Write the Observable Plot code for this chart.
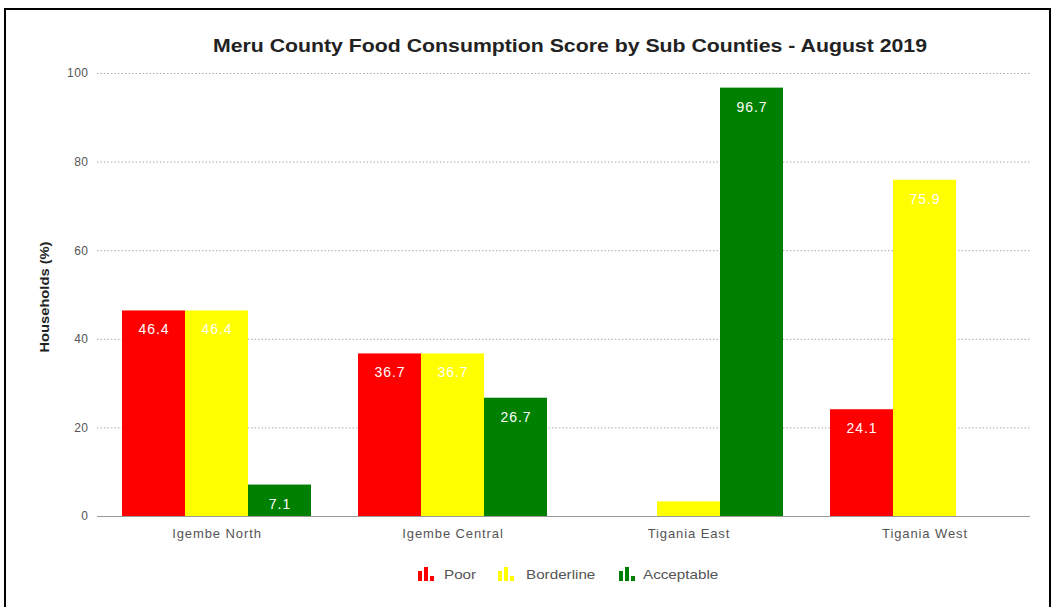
<!DOCTYPE html>
<html>
<head>
<meta charset="utf-8">
<script src="https://cdn.jsdelivr.net/npm/d3@7"></script>
<script src="https://cdn.jsdelivr.net/npm/@observablehq/plot@0.6"></script>
<style>
  body { margin: 0; background: #fff; font-family: "Liberation Sans", Arial, sans-serif; }
  #frame { position: absolute; left: 4px; top: 8px; width: 1047px; height: 620px; border: 2px solid #000; box-sizing: border-box; }
  #title { position: absolute; left: 570px; top: 35px; white-space: nowrap; font-weight: bold; font-size: 19px; color: #222; }
  #ylabel { position: absolute; left: 44px; top: 297px; transform: translate(-50%, -50%) rotate(-90deg) scaleX(1.13); font-weight: bold; font-size: 13px; color: #222; white-space: nowrap; }
  .layer { position: absolute; left: 0; top: 60px; }
  #legend { position: absolute; top: 574px; left: 0; width: 1055px; font-size: 13px; color: #555; }
  .icon { position: absolute; top: -7px; }
  .lt { position: absolute; top: 0; transform-origin: left center; transform: translateY(-50%) scaleX(1.17); white-space: nowrap; }
</style>
</head>
<body>
<div id="frame"></div>
<div id="title"></div>
<div id="ylabel"></div>
<div id="grid" class="layer"></div>
<div id="chart" class="layer"></div>
<div id="legend"></div>
<script>
const titleText = "Meru County Food Consumption Score by Sub Counties - August 2019";
const yLabel = "Households (%)";
const counties = ["Igembe North", "Igembe Central", "Tigania East", "Tigania West"];
const series = ["Poor", "Borderline", "Acceptable"];
const colors = ["#ff0000", "#ffff00", "#008000"];
const poor = [46.4, 36.7, 0, 24.1];
const borderline = [46.4, 36.7, 3.3, 75.9];
const acceptable = [7.1, 26.7, 96.7, 0];
const yTicks = [0, 20, 40, 60, 80, 100];

const seriesValues = [poor, borderline, acceptable];
const data = [];
counties.forEach((c, i) => series.forEach((s, j) => data.push({county: c, category: s, value: seriesValues[j][i]})));

const titleEl = document.getElementById("title");
titleEl.textContent = titleText;
const tw = titleEl.getBoundingClientRect().width;
titleEl.style.transform = `translateX(-50%) scaleX(${714 / tw})`;
document.getElementById("ylabel").textContent = yLabel;

const common = {
  width: 1055,
  height: 490,
  marginLeft: 97,
  marginRight: 12,
  marginTop: 13,
  marginBottom: 34,
  style: {fontFamily: "'Liberation Sans', Arial, sans-serif", fontSize: "12px", color: "#555", background: "transparent"}
};

// background layer: y axis, continuous dotted grid and baseline across the whole plot
const grid = Plot.plot({
  ...common,
  x: {axis: null},
  y: {domain: [0, 100], ticks: yTicks, label: null, tickSize: 0, tickPadding: 9},
  marks: [
    Plot.ruleY(yTicks.filter(t => t > 0), {stroke: "#aaa", strokeDasharray: "1.5,2", strokeWidth: 1, insetRight: 13}),
    Plot.ruleY([0], {stroke: "#999", strokeWidth: 1, insetRight: 13})
  ]
});
grid.querySelectorAll('g[aria-label="y-axis tick label"] text').forEach(t => { t.style.letterSpacing = "0.5px"; });
document.getElementById("grid").appendChild(grid);

const chart = Plot.plot({
  ...common,
  fx: {domain: counties, paddingInner: 0.2, paddingOuter: 0.1, label: null, tickSize: 0, tickPadding: 12, axis: "bottom"},
  x: {domain: series, padding: 0, axis: null},
  y: {domain: [0, 100], axis: null},
  color: {domain: series, range: colors},
  marks: [
    Plot.barY(data, {fx: "county", x: "category", y: "value", fill: "category"}),
    Plot.text(data.filter(d => d.value > 5), {fx: "county", x: "category", y: "value", text: d => d.value.toFixed(1), dy: 19, fill: "white", fontSize: 14})
  ]
});
chart.querySelectorAll('g[aria-label="fx-axis tick label"] text').forEach(t => { t.style.fontSize = "13px"; t.style.letterSpacing = "0.9px"; });
chart.querySelectorAll('g[aria-label="text"] text').forEach(t => { t.style.letterSpacing = "1px"; });
document.getElementById("chart").appendChild(chart);

// legend
const legend = document.getElementById("legend");
const iconX = [418, 498, 619];
const textX = [444, 526, 643];
series.forEach((s, j) => {
  const ic = document.createElement("div");
  ic.className = "icon";
  ic.style.left = iconX[j] + "px";
  ic.innerHTML = `<svg width="17" height="14" viewBox="0 0 17 14"><rect x="0" y="4" width="4" height="10" fill="${colors[j]}"/><rect x="6" y="0" width="4" height="14" fill="${colors[j]}"/><rect x="12" y="9" width="4" height="5" fill="${colors[j]}"/></svg>`;
  legend.appendChild(ic);
  const t = document.createElement("div");
  t.className = "lt";
  t.style.left = textX[j] + "px";
  t.textContent = s;
  legend.appendChild(t);
});
</script>
</body>
</html>
